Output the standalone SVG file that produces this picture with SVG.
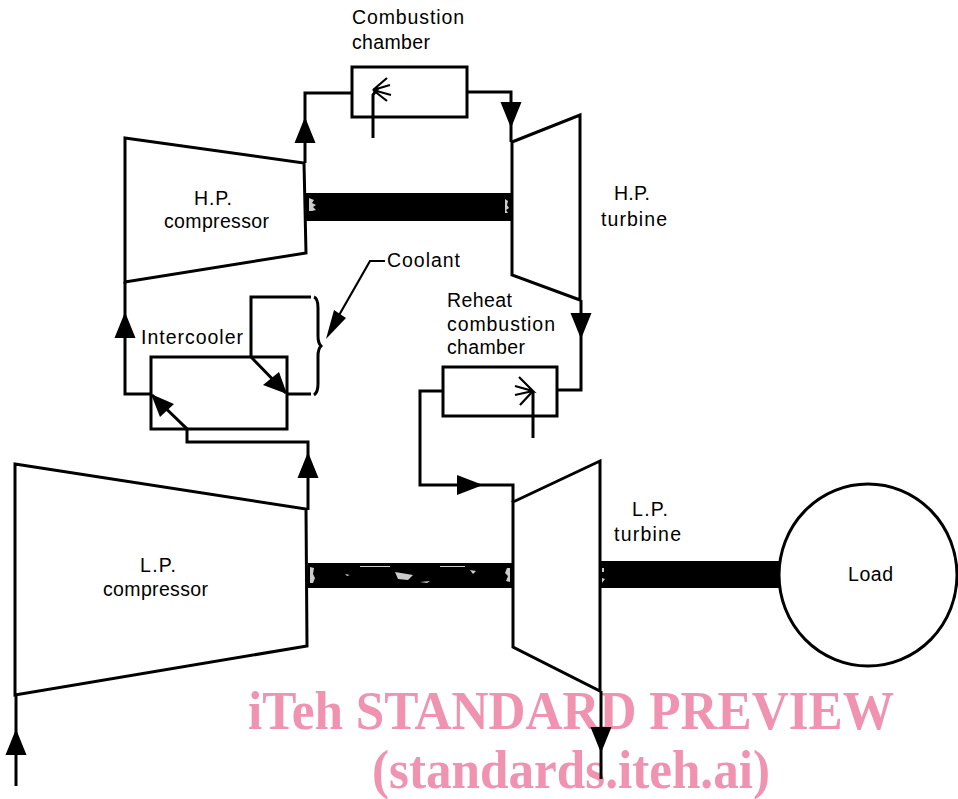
<svg xmlns="http://www.w3.org/2000/svg" width="958" height="799" viewBox="0 0 958 799">
<style>
.l{fill:none;stroke:#000;stroke-width:3;stroke-linejoin:miter}
.t{fill:none;stroke:#000;stroke-width:2.2}
.b{fill:none;stroke:#000;stroke-width:3}
.a{fill:#000;stroke:none}
.s{fill:#000;stroke:none}
.sp{fill:#ccc;stroke:none}
text.n{font-family:"Liberation Sans",Arial,sans-serif;font-size:19.5px;fill:#000}
text.w{font-family:"Liberation Serif","Times New Roman",serif;font-weight:bold;font-size:55px;fill:#f093b0}
</style>
<defs>
<polygon id="up" class="a" points="0,0 10.500,26 -10.500,26"/>
<polygon id="dn" class="a" points="0,0 10.500,-26 -10.500,-26"/>
</defs>
<rect width="958" height="799" fill="#fff"/>
<g id="watermark">
<text class="w" x="248" y="729" textLength="646" lengthAdjust="spacingAndGlyphs">iTeh STANDARD PREVIEW</text>
<text class="w" x="372" y="788" textLength="398" lengthAdjust="spacingAndGlyphs">(standards.iteh.ai)</text>
</g>
<g id="hp-compressor">
<polygon class="l" points="125,138 304,163 306,253 125,282"/>
<text class="n" x="194" y="205" textLength="38" lengthAdjust="spacing">H.P.</text>
<text class="n" x="164" y="228" textLength="105" lengthAdjust="spacing">compressor</text>
</g>
<g id="hp-turbine">
<polygon class="l" points="512,142 580,115 580,300 512,275"/>
<text class="n" x="614" y="200" textLength="36" lengthAdjust="spacing">H.P.</text>
<text class="n" x="601" y="226" textLength="66" lengthAdjust="spacing">turbine</text>
</g>
<g id="combustion-chamber">
<rect class="l" x="352" y="67" width="115" height="50"/>
<text class="n" x="352" y="24" textLength="112" lengthAdjust="spacing">Combustion</text>
<text class="n" x="352" y="49" textLength="78" lengthAdjust="spacing">chamber</text>
<path class="l" d="M373,138V95L378,88"/>
<path class="t" d="M387,78L373,90L390,85M373,90L391,95M373,90L387,101"/>
</g>
<g id="intercooler">
<rect class="l" x="151" y="357" width="136" height="72"/>
<text class="n" x="141" y="344" textLength="102" lengthAdjust="spacing">Intercooler</text>
</g>
<g id="coolant">
<text class="n" x="387" y="267" textLength="73" lengthAdjust="spacing">Coolant</text>
<path class="b" d="M314,297C317,298 318,302 318,308V336C318,341 319,344 321,346C319,348 318,351 318,356V384C318,390 317,393 314,395"/>
</g>
<g id="reheat-combustion-chamber">
<rect class="l" x="443" y="367" width="114" height="49"/>
<text class="n" x="447" y="307" textLength="65" lengthAdjust="spacing">Reheat</text>
<text class="n" x="447" y="331" textLength="108" lengthAdjust="spacing">combustion</text>
<text class="n" x="447" y="354" textLength="78" lengthAdjust="spacing">chamber</text>
<path class="l" d="M533,438V392"/>
<path class="t" d="M519,377L533,391L515,386M533,391L515,395M533,391L520,405"/>
</g>
<g id="lp-compressor">
<polygon class="l" points="15,464 306,509 307,646 15,695"/>
<text class="n" x="140" y="572" textLength="36" lengthAdjust="spacing">L.P.</text>
<text class="n" x="103" y="596" textLength="105" lengthAdjust="spacing">compressor</text>
</g>
<g id="lp-turbine">
<polygon class="l" points="513,502 600,461 600,691 513,647"/>
<text class="n" x="632" y="516" textLength="36" lengthAdjust="spacing">L.P.</text>
<text class="n" x="614" y="541" textLength="67" lengthAdjust="spacing">turbine</text>
</g>
<g id="load">
<ellipse class="l" cx="868" cy="575" rx="89" ry="91"/>
<text class="n" x="848" y="581" textLength="45" lengthAdjust="spacing">Load</text>
</g>
<g id="shafts">
<rect class="s" x="306" y="193" width="205" height="28"/>
<rect class="s" x="308" y="563" width="205" height="25"/>
<rect class="s" x="600" y="561" width="180" height="27"/>
<path class="sp" d="M309,198l5,2-2,3 4,2-3,2 3,3-4,1-3,0zM505,199l3,2-1,4 2,3-3,2 2,3-3,0zM310,567l4,1-1,6 2,4-2,5-3,0zM507,568l3,0 0,14-4,-1 2,-5-3,-3zM345,574l5,1-3,1zM395,572l18,3-5,5-10,-1zM420,582l10,-1-3,2zM602,568l2,0 0,4-2,0zM602,578l3,1-3,4zM360,566h30v1h-30zM440,566h25v1h-25zM470,570l6,1-3,3z"/>
</g>
<g id="connectors">
<path class="l" d="M352,93H305V163"/>
<use href="#up" x="305" y="117"/>
<path class="l" d="M467,92H511V142"/>
<use href="#dn" x="511" y="128"/>
<path class="l" d="M125,282V394H151"/>
<use href="#up" x="125" y="312"/>
<path class="l" d="M287,394H311"/>
<path class="l" d="M311,297H251V357L286,393"/>
<polygon class="a" points="287,394 263,385 279,372"/>
<path class="l" d="M308,510V442H187V429L152,395"/>
<polygon class="a" points="151,394 174,404 160,417"/>
<use href="#up" x="308" y="452"/>
<path class="l" d="M557,390H581V300"/>
<use href="#dn" x="581" y="339"/>
<path class="l" d="M443,391H420V485H513V502"/>
<polygon class="a" points="483,485 457,475 457,495"/>
<path class="l" d="M601,691V779"/>
<use href="#dn" x="601" y="753"/>
<path class="l" d="M16,786V695"/>
<use href="#up" x="16" y="729"/>
<path class="t" d="M385,261H370L330,331"/>
<polygon class="a" points="326,339 334,310 346,318"/>
</g>
</svg>
